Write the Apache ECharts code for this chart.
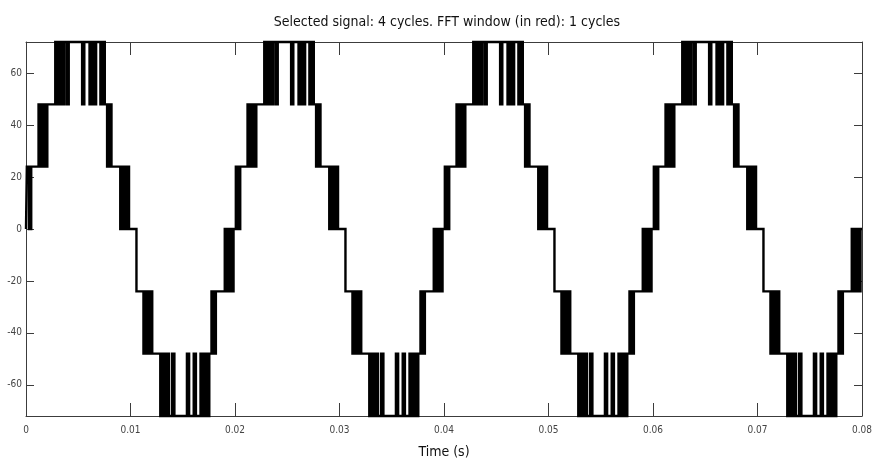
<!DOCTYPE html>
<html>
<head>
<meta charset="utf-8">
<script src="https://cdn.jsdelivr.net/npm/echarts@6/dist/echarts.min.js"></script>
<style>
  html, body { margin: 0; padding: 0; background: #ffffff; }
  #chart { width: 875px; height: 468px; }
</style>
</head>
<body>
<div id="chart"></div>
<script>
// Inverter output voltage, multilevel PWM staircase (levels 0, ±24, ±48, ±72 V).
// Each cycle is listed as [time in ms, level held from that instant].
const titleText = 'Selected signal: 4 cycles. FFT window (in red): 1 cycles';
const xAxisName = 'Time (s)';
const xRangeMs = [0, 80];
const xTickStepMs = 10;
const yRange = [-72, 72];
const yTicks = [-60, -40, -20, 0, 20, 40, 60];

const cycle1 = [
  [0, 0],
  [0.08, 24], [0.29, 0], [0.50, 24],
  [1.20, 48], [1.41, 24], [1.62, 48], [1.83, 24], [2.04, 48],
  [2.80, 72], [3.01, 48], [3.22, 72], [3.43, 48], [3.64, 72],
  [3.88, 48], [4.09, 72],
  [5.37, 48], [5.58, 72],
  [6.08, 48], [6.29, 72], [6.50, 48], [6.71, 72],
  [7.12, 48], [7.33, 72], [7.54, 48],
  [7.76, 24], [7.97, 48], [8.18, 24],
  [9.02, 0], [9.23, 24], [9.44, 0], [9.65, 24], [9.86, 0],
  [10.57, -24],
  [11.24, -48], [11.45, -24], [11.66, -48], [11.87, -24], [12.08, -48],
  [12.85, -72], [13.06, -48], [13.27, -72], [13.48, -48], [13.69, -72],
  [13.99, -48], [14.20, -72],
  [15.40, -48], [15.61, -72],
  [16.05, -48], [16.26, -72],
  [16.70, -48], [16.91, -72], [17.12, -48], [17.33, -72], [17.54, -48],
  [17.75, -24], [17.96, -48], [18.17, -24],
  [19.02, 0], [19.23, -24], [19.44, 0], [19.65, -24], [19.86, 0]
];

const cycle2 = [
  [20.08, 24], [20.29, 0], [20.50, 24],
  [21.20, 48], [21.41, 24], [21.62, 48], [21.83, 24], [22.04, 48],
  [22.80, 72], [23.01, 48], [23.22, 72], [23.43, 48], [23.64, 72],
  [23.88, 48], [24.09, 72],
  [25.37, 48], [25.58, 72],
  [26.08, 48], [26.29, 72], [26.50, 48], [26.71, 72],
  [27.12, 48], [27.33, 72], [27.54, 48],
  [27.76, 24], [27.97, 48], [28.18, 24],
  [29.02, 0], [29.23, 24], [29.44, 0], [29.65, 24], [29.86, 0],
  [30.57, -24],
  [31.24, -48], [31.45, -24], [31.66, -48], [31.87, -24], [32.08, -48],
  [32.85, -72], [33.06, -48], [33.27, -72], [33.48, -48], [33.69, -72],
  [33.99, -48], [34.20, -72],
  [35.40, -48], [35.61, -72],
  [36.05, -48], [36.26, -72],
  [36.70, -48], [36.91, -72], [37.12, -48], [37.33, -72], [37.54, -48],
  [37.75, -24], [37.96, -48], [38.17, -24],
  [39.02, 0], [39.23, -24], [39.44, 0], [39.65, -24], [39.86, 0]
];

const cycle3 = [
  [40.08, 24], [40.29, 0], [40.50, 24],
  [41.20, 48], [41.41, 24], [41.62, 48], [41.83, 24], [42.04, 48],
  [42.80, 72], [43.01, 48], [43.22, 72], [43.43, 48], [43.64, 72],
  [43.88, 48], [44.09, 72],
  [45.37, 48], [45.58, 72],
  [46.08, 48], [46.29, 72], [46.50, 48], [46.71, 72],
  [47.12, 48], [47.33, 72], [47.54, 48],
  [47.76, 24], [47.97, 48], [48.18, 24],
  [49.02, 0], [49.23, 24], [49.44, 0], [49.65, 24], [49.86, 0],
  [50.57, -24],
  [51.24, -48], [51.45, -24], [51.66, -48], [51.87, -24], [52.08, -48],
  [52.85, -72], [53.06, -48], [53.27, -72], [53.48, -48], [53.69, -72],
  [53.99, -48], [54.20, -72],
  [55.40, -48], [55.61, -72],
  [56.05, -48], [56.26, -72],
  [56.70, -48], [56.91, -72], [57.12, -48], [57.33, -72], [57.54, -48],
  [57.75, -24], [57.96, -48], [58.17, -24],
  [59.02, 0], [59.23, -24], [59.44, 0], [59.65, -24], [59.86, 0]
];

const cycle4 = [
  [60.08, 24], [60.29, 0], [60.50, 24],
  [61.20, 48], [61.41, 24], [61.62, 48], [61.83, 24], [62.04, 48],
  [62.80, 72], [63.01, 48], [63.22, 72], [63.43, 48], [63.64, 72],
  [63.88, 48], [64.09, 72],
  [65.37, 48], [65.58, 72],
  [66.08, 48], [66.29, 72], [66.50, 48], [66.71, 72],
  [67.12, 48], [67.33, 72], [67.54, 48],
  [67.76, 24], [67.97, 48], [68.18, 24],
  [69.02, 0], [69.23, 24], [69.44, 0], [69.65, 24], [69.86, 0],
  [70.57, -24],
  [71.24, -48], [71.45, -24], [71.66, -48], [71.87, -24], [72.08, -48],
  [72.85, -72], [73.06, -48], [73.27, -72], [73.48, -48], [73.69, -72],
  [73.99, -48], [74.20, -72],
  [75.40, -48], [75.61, -72],
  [76.05, -48], [76.26, -72],
  [76.70, -48], [76.91, -72], [77.12, -48], [77.33, -72], [77.54, -48],
  [77.75, -24], [77.96, -48], [78.17, -24],
  [79.02, 0], [79.23, -24], [79.44, 0], [79.65, -24], [79.86, 0],
  [80, 0]
];

const signal = cycle1.concat(cycle2, cycle3, cycle4);

const FONT = "'DejaVu Sans Condensed', 'DejaVu Sans', sans-serif";
const AXIS_COLOR = '#3c3c3c';

function msToSeconds(v) {
  return v === 0 ? '0' : (v / 1000).toFixed(2);
}

const boxAxisLine = { show: true, onZero: false, lineStyle: { color: AXIS_COLOR, width: 1 } };

const chart = echarts.init(document.getElementById('chart'));
chart.setOption({
  animation: false,
  backgroundColor: '#ffffff',
  title: {
    text: titleText,
    left: 442,
    textAlign: 'center',
    top: 10,
    textStyle: { fontFamily: FONT, fontSize: 14, fontWeight: 'normal', color: '#111111' }
  },
  grid: { left: 26, right: 13, top: 42, bottom: 52, outerBoundsMode: 'none' },
  xAxis: [
    {
      type: 'value', position: 'bottom',
      min: xRangeMs[0], max: xRangeMs[1], interval: xTickStepMs,
      axisLine: boxAxisLine,
      axisTick: { show: true, inside: true, length: 13, lineStyle: { color: AXIS_COLOR } },
      axisLabel: { formatter: msToSeconds, margin: 9, fontFamily: FONT, fontSize: 10, color: '#444444' },
      splitLine: { show: false },
      name: xAxisName, nameLocation: 'middle', nameGap: 29,
      nameTextStyle: { fontFamily: FONT, fontSize: 14, color: '#111111' }
    },
    {
      type: 'value', position: 'top',
      min: xRangeMs[0], max: xRangeMs[1], interval: xTickStepMs,
      axisLine: boxAxisLine,
      axisTick: { show: true, inside: true, length: 13, lineStyle: { color: AXIS_COLOR } },
      axisLabel: { show: false },
      splitLine: { show: false }
    }
  ],
  yAxis: [
    {
      type: 'value', position: 'left',
      min: yRange[0], max: yRange[1],
      axisLine: boxAxisLine,
      axisTick: { show: true, inside: true, length: 8, customValues: yTicks, lineStyle: { color: AXIS_COLOR } },
      axisLabel: { customValues: yTicks, margin: 4, fontFamily: FONT, fontSize: 10, color: '#444444' },
      splitLine: { show: false }
    },
    {
      type: 'value', position: 'right',
      min: yRange[0], max: yRange[1],
      axisLine: boxAxisLine,
      axisTick: { show: true, inside: true, length: 8, customValues: yTicks, lineStyle: { color: AXIS_COLOR } },
      axisLabel: { show: false },
      splitLine: { show: false }
    }
  ],
  series: [
    {
      type: 'line',
      xAxisIndex: 0,
      yAxisIndex: 0,
      data: signal,
      step: 'end',
      symbol: 'none',
      clip: false,
      lineStyle: { color: '#000000', width: 2.4, join: 'miter' }
    }
  ]
});
</script>
</body>
</html>
